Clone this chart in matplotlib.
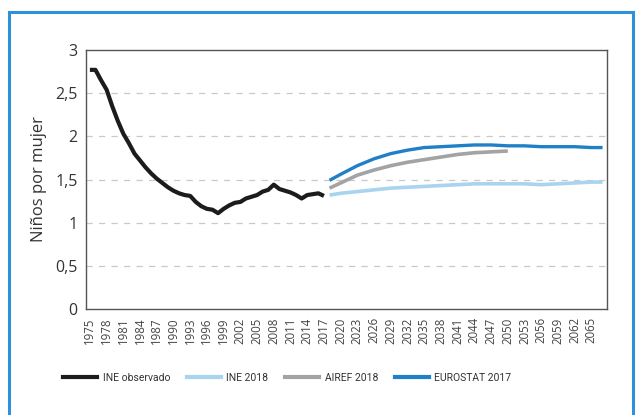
import numpy as np
import matplotlib
matplotlib.use("Agg")
import matplotlib.pyplot as plt
from matplotlib.patches import Rectangle
from matplotlib.lines import Line2D

# Observed fertility (INE), 1975-2017
obs_years = list(range(1975, 2018))
obs_vals = [2.77, 2.77, 2.65, 2.54, 2.35, 2.18, 2.03, 1.92, 1.80, 1.72,
            1.64, 1.57, 1.51, 1.46, 1.41, 1.37, 1.34, 1.32, 1.31, 1.24,
            1.19, 1.16, 1.15, 1.11, 1.16, 1.20, 1.23, 1.24, 1.28, 1.30,
            1.32, 1.36, 1.38, 1.44, 1.39, 1.37, 1.35, 1.32, 1.28, 1.32,
            1.33, 1.34, 1.31]

# Projections
proj_years = [2018, 2020, 2023, 2026, 2029, 2032, 2035, 2038, 2041, 2044,
              2047, 2050, 2053, 2056, 2059, 2062, 2065, 2067]
ine18 = [1.32, 1.34, 1.36, 1.38, 1.40, 1.41, 1.42, 1.43, 1.44, 1.45,
         1.45, 1.45, 1.45, 1.44, 1.45, 1.46, 1.47, 1.47]
eurostat17 = [1.49, 1.56, 1.66, 1.74, 1.80, 1.84, 1.87, 1.88, 1.89, 1.90,
              1.90, 1.89, 1.89, 1.88, 1.88, 1.88, 1.87, 1.87]
airef_years = [2018, 2020, 2023, 2026, 2029, 2032, 2035, 2038, 2041, 2044,
               2047, 2050]
airef18 = [1.40, 1.46, 1.55, 1.61, 1.66, 1.70, 1.73, 1.76, 1.79, 1.81,
           1.82, 1.83]

xtick_years = list(range(1975, 2066, 3))
yticks = [0, 0.5, 1, 1.5, 2, 2.5, 3]
ytick_labels = ["0", "0,5", "1", "1,5", "2", "2,5", "3"]

c_black = "#1c1c1c"
c_light = "#a8d4f0"
c_gray = "#a3a3a3"
c_blue = "#1f80c8"

plt.rcParams['font.family'] = ['Open Sans', 'DejaVu Sans']

fig = plt.figure(figsize=(6.38, 4.15), dpi=100)
fig.patches.append(Rectangle((9 / 638, -0.1), 624 / 638, 1 - 12 / 415 + 0.1,
                             transform=fig.transFigure, fill=False,
                             edgecolor="#3091d8", linewidth=2.2))

ax = fig.add_axes([86 / 638, 1 - 309 / 415, 521 / 638, 259 / 415])

ax.plot(obs_years, obs_vals, color=c_black, lw=3.0, solid_capstyle='butt', zorder=5)
ax.plot(proj_years, ine18, color=c_light, lw=2.6, solid_capstyle='butt', zorder=3)
ax.plot(airef_years, airef18, color=c_gray, lw=2.6, solid_capstyle='butt', zorder=3)
ax.plot(proj_years, eurostat17, color=c_blue, lw=2.4, solid_capstyle='butt', zorder=4)

ax.set_xlim(1974.3, 2067.8)
ax.set_ylim(0, 3)
ax.set_yticks(yticks)
ax.set_yticklabels(ytick_labels, fontsize=11.5, color="#333333")
ax.set_xticks(xtick_years)
ax.set_xticklabels([str(y) for y in xtick_years], rotation=90, fontsize=8.3,
                   color="#444444")
ax.tick_params(axis='both', length=0)
ax.tick_params(axis='x', pad=6)
ax.tick_params(axis='y', pad=6)

for v in yticks[1:-1]:
    ax.axhline(v, color="#c9c9c9", lw=0.9, ls=(0, (5, 5)), zorder=1)

for s in ax.spines.values():
    s.set_color("#555555")
    s.set_linewidth(1.0)

ax.set_ylabel("Niños por mujer", fontsize=12, color="#333333", labelpad=6)

handles = [Line2D([], [], color=c, lw=3) for c in [c_black, c_light, c_gray, c_blue]]
labels = ["INE observado", "INE 2018", "AIREF 2018", "EUROSTAT 2017"]
fig.legend(handles, labels, loc='center left', bbox_to_anchor=(63 / 638, 1 - 378 / 415),
           ncol=4, frameon=False, handlelength=3.3, columnspacing=1.6,
           handletextpad=0.5, borderpad=0, borderaxespad=0,
           prop={'family': ['Roboto'], 'size': 7.5})
for t in fig.legends[0].get_texts():
    t.set_color("#333333")

fig.savefig("out.png", dpi=100)
